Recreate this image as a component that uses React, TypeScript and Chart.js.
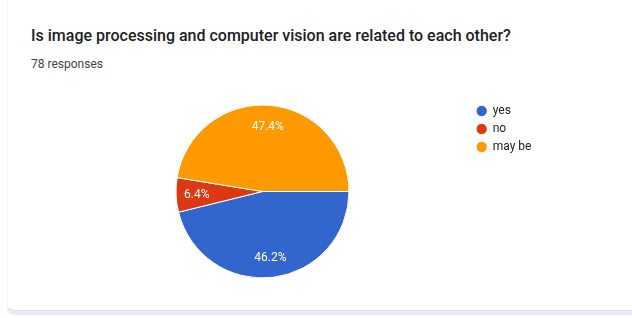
import React, { useEffect, useRef } from "react";
import { Chart, registerables } from "chart.js";

Chart.register(...registerables);

const TITLE = "Is image processing and computer vision are related to each other?";
const SUBTITLE = "78 responses";
const CATEGORIES = ["yes", "no", "may be"];
const COUNTS = [36, 5, 37];
const COLORS = ["#3366cc", "#dc3912", "#ff9900"];

const labelPlugin = {
  id: "sliceLabels",
  afterDatasetsDraw(chart: any) {
    const ctx = chart.ctx;
    const meta = chart.getDatasetMeta(0);
    const data = chart.data.datasets[0].data as number[];
    const total = data.reduce((a, b) => a + b, 0);
    ctx.save();
    ctx.font = "12px Roboto, Arial, sans-serif";
    ctx.fillStyle = "#ffffff";
    ctx.textAlign = "center";
    ctx.textBaseline = "middle";
    meta.data.forEach((arc: any, i: number) => {
      const { x, y, startAngle, endAngle, outerRadius } = arc.getProps(
        ["x", "y", "startAngle", "endAngle", "outerRadius"],
        true
      );
      const mid = (startAngle + endAngle) / 2;
      const r = outerRadius * 0.76;
      const pct = ((data[i] / total) * 100).toFixed(1) + "%";
      ctx.fillText(pct, x + Math.cos(mid) * r, y + Math.sin(mid) * r + 1);
    });
    ctx.restore();
  },
};

export default function App() {
  const ref = useRef<HTMLCanvasElement | null>(null);

  useEffect(() => {
    const canvas = ref.current;
    if (!canvas) return;
    const mctx = canvas.getContext("2d")!;
    mctx.font = "12px Roboto";
    const maxText = Math.max(...CATEGORIES.map((c) => mctx.measureText(c).width));
    const legPad = 6;
    const boxW = 10;
    const legendWidth = legPad + boxW + 6 + maxText + 10;
    const legendLeft = 470.7;
    const centerX = 262.5;
    const padLeft = 2 * centerX - legendLeft;
    const padRight = 632 - legendLeft - legendWidth;

    const chart = new Chart(canvas, {
      type: "pie",
      data: {
        labels: CATEGORIES,
        datasets: [
          {
            data: COUNTS,
            backgroundColor: COLORS,
            borderColor: "#ffffff",
            borderWidth: 1,
            radius: "94%",
          },
        ],
      },
      options: {
        responsive: false,
        animation: false,
        rotation: 90,
        layout: { padding: { top: 99, bottom: 34, left: padLeft, right: padRight } },
        plugins: {
          tooltip: { enabled: false },
          legend: {
            position: "right",
            align: "start",
            labels: {
              usePointStyle: true,
              pointStyle: "circle",
              boxWidth: boxW,
              boxHeight: 8,
              padding: legPad,
              color: "#222222",
              font: { family: "Roboto", size: 12 },
            },
          },
        },
      },
      plugins: [labelPlugin],
    });
    return () => chart.destroy();
  }, []);

  return (
    <div
      style={{
        position: "fixed",
        left: 0,
        top: 0,
        width: 632,
        height: 318,
        background: "#ffffff",
        overflow: "hidden",
      }}
    >
      <div
        style={{
          position: "absolute",
          left: 7,
          top: -20,
          width: 640,
          height: 335,
          background: "#ebe9f7",
          borderBottomLeftRadius: 8,
        }}
      />
      <div
        style={{
          position: "absolute",
          left: 7,
          top: -20,
          width: 640,
          height: 331,
          background: "#ffffff",
          borderLeft: "1px solid #f6f6f9",
          borderBottom: "1px solid #e2e2ea",
          borderBottomLeftRadius: 8,
          boxSizing: "border-box",
        }}
      />
      <div
        style={{
          position: "absolute",
          left: 31,
          top: 26,
          fontFamily: "Roboto, Arial, sans-serif",
          fontWeight: 500,
          fontSize: 16,
          lineHeight: "20px",
          color: "#202124",
          whiteSpace: "nowrap",
        }}
      >
        {TITLE}
      </div>
      <div
        style={{
          position: "absolute",
          left: 31,
          top: 56,
          fontFamily: "Roboto, Arial, sans-serif",
          fontSize: 12,
          lineHeight: "16px",
          color: "#444444",
          whiteSpace: "nowrap",
        }}
      >
        {SUBTITLE}
      </div>
      <canvas
        ref={ref}
        width={632}
        height={318}
        style={{ position: "absolute", left: 0, top: 0, width: 632, height: 318 }}
      />
    </div>
  );
}
